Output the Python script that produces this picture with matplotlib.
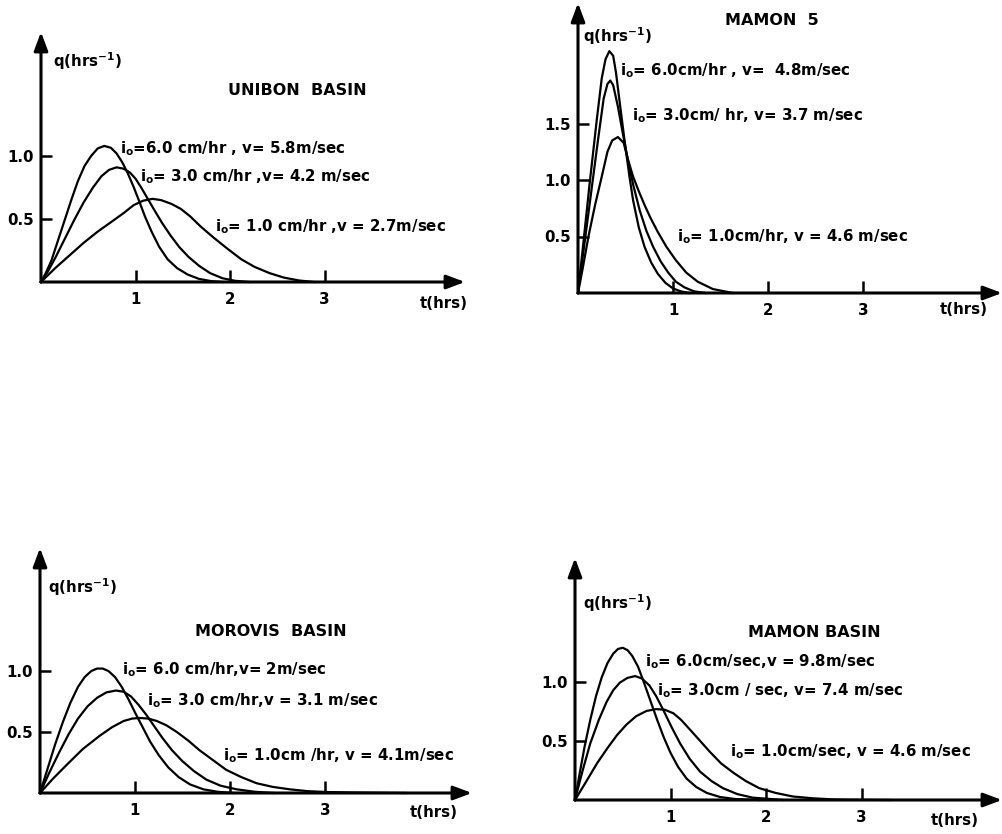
import matplotlib
matplotlib.use("Agg")
import matplotlib.pyplot as plt
from matplotlib.patches import ArrowStyle

plt.rcParams["font.family"] = ["DejaVu Sans"]
plt.rcParams["font.weight"] = "bold"
plt.rcParams["mathtext.fontset"] = "custom"
plt.rcParams["mathtext.rm"] = "DejaVu Sans:bold"
plt.rcParams["mathtext.it"] = "DejaVu Sans:bold"
plt.rcParams["mathtext.bf"] = "DejaVu Sans:bold"
plt.rcParams["mathtext.default"] = "rm"

# ---------------------------------------------------------------- data
# UNIBON BASIN
uni_t6 = [0, 0.05, 0.11, 0.18, 0.25, 0.32, 0.39, 0.46, 0.53, 0.6, 0.67, 0.74, 0.8, 0.86,
          0.92, 0.98, 1.04, 1.1, 1.17, 1.25, 1.34, 1.44, 1.55, 1.67, 1.8, 1.92]
uni_q6 = [0, 0.07, 0.17, 0.33, 0.49, 0.65, 0.8, 0.92, 1.0, 1.06, 1.08, 1.065, 1.02, 0.95,
          0.86, 0.755, 0.64, 0.52, 0.4, 0.28, 0.18, 0.11, 0.06, 0.025, 0.007, 0]
uni_t3 = [0, 0.07, 0.15, 0.25, 0.35, 0.45, 0.55, 0.64, 0.72, 0.8, 0.87, 0.94, 1.0, 1.06,
          1.13, 1.2, 1.28, 1.37, 1.46, 1.56, 1.67, 1.79, 1.92, 2.05, 2.2]
uni_q3 = [0, 0.08, 0.19, 0.34, 0.49, 0.63, 0.75, 0.84, 0.89, 0.91, 0.9, 0.87, 0.82, 0.75,
          0.66, 0.57, 0.47, 0.37, 0.28, 0.2, 0.13, 0.07, 0.03, 0.01, 0]
uni_t1 = [0, 0.15, 0.3, 0.45, 0.6, 0.75, 0.88, 0.98, 1.08, 1.18, 1.27, 1.38, 1.48, 1.58,
          1.69, 1.83, 1.98, 2.12, 2.26, 2.42, 2.57, 2.73, 2.89]
uni_q1 = [0, 0.11, 0.21, 0.31, 0.4, 0.48, 0.55, 0.61, 0.645, 0.66, 0.65, 0.62, 0.58, 0.52,
          0.44, 0.35, 0.26, 0.18, 0.12, 0.07, 0.035, 0.012, 0]

# MAMON 5
m5_t6 = [0, 0.06, 0.12, 0.2, 0.25, 0.29, 0.33, 0.37, 0.4, 0.44, 0.49, 0.54, 0.58, 0.64,
         0.7, 0.77, 0.84, 0.92, 1.0, 1.08, 1.17]
m5_q6 = [0, 0.47, 0.95, 1.55, 1.9, 2.07, 2.14, 2.1, 1.95, 1.68, 1.35, 1.04, 0.82, 0.58,
         0.41, 0.27, 0.17, 0.09, 0.04, 0.015, 0]
m5_t3 = [0, 0.07, 0.14, 0.21, 0.27, 0.31, 0.34, 0.37, 0.42, 0.47, 0.52, 0.58, 0.65, 0.72,
         0.79, 0.87, 0.95, 1.03, 1.12, 1.22, 1.34]
m5_q3 = [0, 0.45, 0.9, 1.35, 1.72, 1.85, 1.88, 1.84, 1.65, 1.42, 1.2, 0.96, 0.73, 0.55,
         0.41, 0.28, 0.18, 0.1, 0.05, 0.015, 0]
m5_t1 = [0, 0.05, 0.11, 0.18, 0.25, 0.31, 0.36, 0.42, 0.48, 0.53, 0.58, 0.64, 0.7, 0.76,
         0.84, 0.93, 1.03, 1.14, 1.26, 1.42, 1.63]
m5_q1 = [0, 0.22, 0.5, 0.78, 1.03, 1.25, 1.35, 1.38, 1.33, 1.17, 1.03, 0.9, 0.78, 0.67,
         0.54, 0.41, 0.29, 0.18, 0.1, 0.035, 0]

# MOROVIS BASIN
mor_t6 = [0, 0.08, 0.16, 0.24, 0.32, 0.4, 0.47, 0.54, 0.6, 0.66, 0.72, 0.79, 0.86, 0.93,
          1.0, 1.08, 1.16, 1.25, 1.35, 1.46, 1.58, 1.72, 1.87, 2.04]
mor_q6 = [0, 0.2, 0.4, 0.58, 0.74, 0.87, 0.95, 1.0, 1.02, 1.02, 1.0, 0.95, 0.87, 0.77,
          0.66, 0.54, 0.42, 0.31, 0.21, 0.13, 0.07, 0.03, 0.01, 0]
mor_t3 = [0, 0.1, 0.2, 0.3, 0.4, 0.5, 0.6, 0.7, 0.8, 0.88, 0.96, 1.04, 1.12, 1.2, 1.29,
          1.39, 1.5, 1.62, 1.75, 1.9, 2.07, 2.26, 2.46]
mor_q3 = [0, 0.17, 0.33, 0.48, 0.61, 0.71, 0.78, 0.825, 0.84, 0.83, 0.79, 0.72, 0.64, 0.55,
          0.45, 0.35, 0.26, 0.18, 0.11, 0.06, 0.03, 0.01, 0]
mor_t1 = [0, 0.14, 0.28, 0.45, 0.63, 0.76, 0.88, 0.97, 1.05, 1.14, 1.23, 1.33, 1.44, 1.56,
          1.68, 1.82, 1.96, 2.12, 2.28, 2.45, 2.63, 2.82, 3.02, 3.3, 3.6, 3.85]
mor_q1 = [0, 0.12, 0.23, 0.36, 0.47, 0.54, 0.59, 0.61, 0.615, 0.61, 0.59, 0.555, 0.5, 0.43,
          0.35, 0.27, 0.19, 0.13, 0.08, 0.05, 0.03, 0.015, 0.008, 0.004, 0.002, 0]

# MAMON BASIN
mam_t6 = [0, 0.05, 0.1, 0.16, 0.22, 0.28, 0.34, 0.4, 0.45, 0.5, 0.55, 0.6, 0.66, 0.72,
          0.79, 0.86, 0.93, 1.0, 1.08, 1.17, 1.27, 1.38, 1.52, 1.68, 1.93]
mam_q6 = [0, 0.23, 0.45, 0.68, 0.88, 1.04, 1.16, 1.24, 1.28, 1.29, 1.27, 1.22, 1.13, 1.0,
          0.84, 0.68, 0.53, 0.4, 0.28, 0.18, 0.11, 0.06, 0.025, 0.008, 0]
mam_t3 = [0, 0.08, 0.16, 0.25, 0.33, 0.4, 0.47, 0.55, 0.63, 0.7, 0.78, 0.85, 0.92, 1.01,
          1.1, 1.2, 1.31, 1.43, 1.55, 1.7, 1.86, 2.18]
mam_q3 = [0, 0.25, 0.48, 0.68, 0.83, 0.93, 0.995, 1.035, 1.05, 1.03, 0.97, 0.88, 0.77, 0.62,
          0.48, 0.35, 0.24, 0.16, 0.1, 0.05, 0.02, 0]
mam_t1 = [0, 0.12, 0.23, 0.34, 0.44, 0.54, 0.64, 0.75, 0.85, 0.94, 1.03, 1.11, 1.2, 1.3,
          1.41, 1.53, 1.66, 1.79, 1.93, 2.1, 2.28, 2.48, 2.7, 2.9, 3.1, 3.3]
mam_q1 = [0, 0.16, 0.31, 0.44, 0.55, 0.64, 0.71, 0.755, 0.77, 0.765, 0.735, 0.68, 0.6, 0.51,
          0.41, 0.31, 0.23, 0.16, 0.1, 0.06, 0.03, 0.015, 0.005, 0.002, 0.001, 0]

titles = ["UNIBON  BASIN", "MAMON  5", "MOROVIS  BASIN", "MAMON BASIN"]
labels = [
    ["i$_o$=6.0 cm/hr , v= 5.8m/sec", "i$_o$= 3.0 cm/hr ,v= 4.2 m/sec",
     "i$_o$= 1.0 cm/hr ,v = 2.7m/sec"],
    ["i$_o$= 6.0cm/hr , v=  4.8m/sec", "i$_o$= 3.0cm/ hr, v= 3.7 m/sec",
     "i$_o$= 1.0cm/hr, v = 4.6 m/sec"],
    ["i$_o$= 6.0 cm/hr,v= 2m/sec", "i$_o$= 3.0 cm/hr,v = 3.1 m/sec",
     "i$_o$= 1.0cm /hr, v = 4.1m/sec"],
    ["i$_o$= 6.0cm/sec,v = 9.8m/sec", "i$_o$= 3.0cm / sec, v= 7.4 m/sec",
     "i$_o$= 1.0cm/sec, v = 4.6 m/sec"],
]
x_ticks = [1, 2, 3]
y_ticks = [[0.5, 1.0], [0.5, 1.0, 1.5], [0.5, 1.0], [0.5, 1.0]]

# ---------------------------------------------------------------- layout
W, H = 1003, 834
# origin px, px per hr, px per q unit, x arrow tip px, y arrow tip px
geom = [
    (41, 282, 94.5, 126, 465, 32),
    (578, 293, 95, 113, 1002, 3),
    (40, 793, 95, 122, 472, 548),
    (575, 800, 95.5, 118, 1002, 558),
]
# text anchors in data units: title, ylabel, three curve labels, t label
text_pos = [
    [(1.98, 1.52), (0.13, 1.75), (0.84, 1.06), (1.05, 0.84), (1.84, 0.44), (4.01, -0.17)],
    [(1.55, 2.41), (0.05, 2.27), (0.44, 1.97), (0.57, 1.57), (1.04, 0.50), (3.81, -0.15)],
    [(1.63, 1.32), (0.08, 1.69), (0.86, 1.01), (1.13, 0.76), (1.93, 0.31), (3.89, -0.16)],
    [(1.81, 1.42), (0.08, 1.67), (0.73, 1.17), (0.86, 0.93), (1.62, 0.41), (3.72, -0.17)],
]
curves = [
    [(uni_t6, uni_q6), (uni_t3, uni_q3), (uni_t1, uni_q1)],
    [(m5_t6, m5_q6), (m5_t3, m5_q3), (m5_t1, m5_q1)],
    [(mor_t6, mor_q6), (mor_t3, mor_q3), (mor_t1, mor_q1)],
    [(mam_t6, mam_q6), (mam_t3, mam_q3), (mam_t1, mam_q1)],
]

FS_TITLE = 11.5
FS_LABEL = 10.8
FS_TICK = 10.8
fig = plt.figure(figsize=(W / 100, H / 100), dpi=100)
arrow = ArrowStyle("-|>", head_length=0.8, head_width=0.3)

for i in range(4):
    ox, oy, sx, sy, xt, yt = geom[i]
    xmax = (xt - ox) / sx
    ymax = (oy - yt) / sy
    ax = fig.add_axes([ox / W, (H - oy) / H, (xt - ox) / W, (oy - yt) / H])
    ax.set_xlim(0, xmax)
    ax.set_ylim(0, ymax)
    ax.patch.set_visible(False)
    for s in ax.spines.values():
        s.set_visible(False)

    ax.annotate("", xy=(xmax, 0), xytext=(0, 0), annotation_clip=False,
                arrowprops=dict(arrowstyle=arrow, lw=2.2, color="k",
                                mutation_scale=14, shrinkA=0, shrinkB=0))
    ax.annotate("", xy=(0, ymax), xytext=(0, 0), annotation_clip=False,
                arrowprops=dict(arrowstyle=arrow, lw=2.2, color="k",
                                mutation_scale=14, shrinkA=0, shrinkB=0))

    ax.set_xticks(x_ticks)
    ax.set_xticklabels([str(v) for v in x_ticks], fontweight="bold")
    ax.set_yticks(y_ticks[i])
    ax.set_yticklabels([f"{v:.1f}" for v in y_ticks[i]], fontweight="bold")
    ax.tick_params(axis="x", direction="in", length=9, width=1.8, pad=7, labelsize=FS_TICK)
    ax.tick_params(axis="y", direction="in", length=8, width=1.8, pad=5, labelsize=FS_TICK)

    for t, q in curves[i]:
        ax.plot(t, q, color="k", lw=1.6, clip_on=False, solid_joinstyle="round")

    tp = text_pos[i]
    ax.text(*tp[0], titles[i], fontsize=FS_TITLE, fontweight="bold", va="center", ha="left")
    ax.text(*tp[1], "q(hrs$^{-1}$)", fontsize=FS_LABEL, fontweight="bold",
            va="center", ha="left")
    for k in range(3):
        ax.text(*tp[2 + k], labels[i][k], fontsize=FS_LABEL, fontweight="bold",
                va="center", ha="left")
    ax.text(*tp[5], "t(hrs)", fontsize=FS_LABEL, fontweight="bold", va="center", ha="left")

fig.savefig("out.png", dpi=100)
